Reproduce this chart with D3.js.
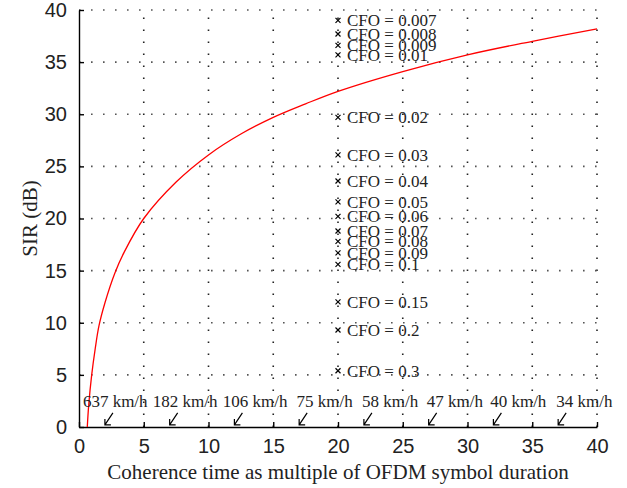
<!DOCTYPE html>
<html lang="en">
<head>
    <meta charset="UTF-8">
    <title>SIR vs coherence time</title>
    <script src="https://d3js.org/d3.v7.min.js"></script>
    <style>
        body { margin: 0; background: #fff; }
        svg { font-family: "Liberation Serif", "DejaVu Serif", serif; }
        .grid line { stroke: #555; stroke-width: 1.6; stroke-dasharray: 1.6 10.4; }
        .axis path, .axis line { stroke: #000; stroke-width: 1.4; }
        .axis text { font-size: 20px; fill: #222; }
    </style>
</head>
<body>
    <svg id="chart" width="627" height="488"></svg>
    <script>
        // SIR curve
        const coherence = [0.64, 0.75, 0.98, 1.25, 1.54, 2, 2.78, 3.5, 5, 7.5, 10, 12.5, 15, 17.5, 20, 25, 30, 35, 40];
        const sir = [0, 2.1, 5, 7.5, 9.7, 11.9, 14.8, 16.8, 20, 23.5, 26.1, 28.1, 29.7, 31.0, 32.2, 34.1, 35.7, 37.0, 38.2];

        // CFO markers, all drawn at coherence time 20
        const cfoX = 20;
        const cfoLabels = ["0.007", "0.008", "0.009", "0.01", "0.02", "0.03", "0.04", "0.05", "0.06",
                           "0.07", "0.08", "0.09", "0.1", "0.15", "0.2", "0.3"];
        const cfoSir = [39.0, 37.7, 36.6, 35.7, 29.7, 26.1, 23.6, 21.6, 20.2, 18.8, 17.8, 16.7, 15.6, 12.0, 9.3, 5.4];

        // speed annotations along the bottom
        const speeds = ["637", "182", "106", "75", "58", "47", "40", "34"];
        const speedAt = [2, 7, 12, 17, 22, 27, 32, 37];
        const speedLabelX = [0.3, 5.7, 11.1, 16.8, 21.85, 26.85, 31.75, 36.85];

        const xTicks = [0, 5, 10, 15, 20, 25, 30, 35, 40];
        const yTicks = [0, 5, 10, 15, 20, 25, 30, 35, 40];

        const svg = d3.select("#chart");
        const margin = {top: 10, right: 30, bottom: 61, left: 79};
        const width = +svg.attr("width") - margin.left - margin.right;
        const height = +svg.attr("height") - margin.top - margin.bottom;
        const g = svg.append("g").attr("transform", `translate(${margin.left},${margin.top})`);

        const x = d3.scaleLinear().domain([0, 40]).range([0, width]);
        const y = d3.scaleLinear().domain([0, 40]).range([height, 0]);

        // dotted grid
        g.append("g").attr("class", "grid")
            .selectAll("line").data(xTicks.filter(d => d > 0)).enter().append("line")
            .attr("x1", d => x(d)).attr("x2", d => x(d))
            .attr("y1", height).attr("y2", 0)
            .style("stroke", "#222");
        g.append("g").attr("class", "grid")
            .selectAll("line").data(yTicks.filter(d => d > 0)).enter().append("line")
            .attr("y1", d => y(d)).attr("y2", d => y(d))
            .attr("x1", 0).attr("x2", width);

        // axes, ticks drawn inward
        g.append("g")
            .attr("class", "axis")
            .attr("transform", `translate(0,${height})`)
            .call(d3.axisBottom(x).tickValues(xTicks).tickSizeInner(-5).tickSizeOuter(0).tickPadding(12));
        g.append("g")
            .attr("class", "axis")
            .call(d3.axisLeft(y).tickValues(yTicks).tickSizeInner(-5).tickSizeOuter(0).tickPadding(12));

        // curve
        const line = d3.line()
            .x((d, i) => x(coherence[i]))
            .y(d => y(d))
            .curve(d3.curveCatmullRom.alpha(0.5));
        g.append("path")
            .datum(sir)
            .attr("d", line)
            .attr("fill", "none")
            .attr("stroke", "#f00")
            .attr("stroke-width", 1.3);

        // CFO markers and labels
        const cfo = g.append("g").selectAll("g")
            .data(cfoSir).enter().append("g")
            .attr("transform", d => `translate(${x(cfoX)},${y(d)})`);
        cfo.append("path")
            .attr("d", "M-2.5,-2.5L2.5,2.5M-2.5,2.5L2.5,-2.5")
            .attr("stroke", "#000")
            .attr("stroke-width", 1.2);
        cfo.append("text")
            .attr("x", 9)
            .attr("dy", "0.35em")
            .attr("font-size", "17px")
            .attr("fill", "#222")
            .text((d, i) => `CFO = ${cfoLabels[i]}`);

        // speed arrows
        g.append("g").selectAll("path")
            .data(speedAt).enter().append("path")
            .attr("d", d => {
                const tx = x(d), ty = y(0.2);
                return `M${tx + 8},${ty - 12}L${tx},${ty}M${tx},${ty - 6}L${tx},${ty}L${tx + 6},${ty}`;
            })
            .attr("fill", "none")
            .attr("stroke", "#000")
            .attr("stroke-width", 1.2);

        g.append("g").selectAll("text")
            .data(speeds).enter().append("text")
            .attr("x", (d, i) => x(speedLabelX[i]))
            .attr("y", y(1.9))
            .attr("font-size", "17px")
            .attr("fill", "#222")
            .text(d => `${d} km/h`);

        // axis titles
        svg.append("text")
            .attr("x", margin.left + width / 2)
            .attr("y", 479)
            .attr("text-anchor", "middle")
            .attr("font-size", "21px")
            .attr("fill", "#222")
            .text("Coherence time as multiple of OFDM symbol duration");

        svg.append("text")
            .attr("transform", `translate(37,${margin.top + height / 2}) rotate(-90)`)
            .attr("text-anchor", "middle")
            .attr("font-size", "21px")
            .attr("fill", "#222")
            .text("SIR (dB)");
    </script>
</body>
</html>
